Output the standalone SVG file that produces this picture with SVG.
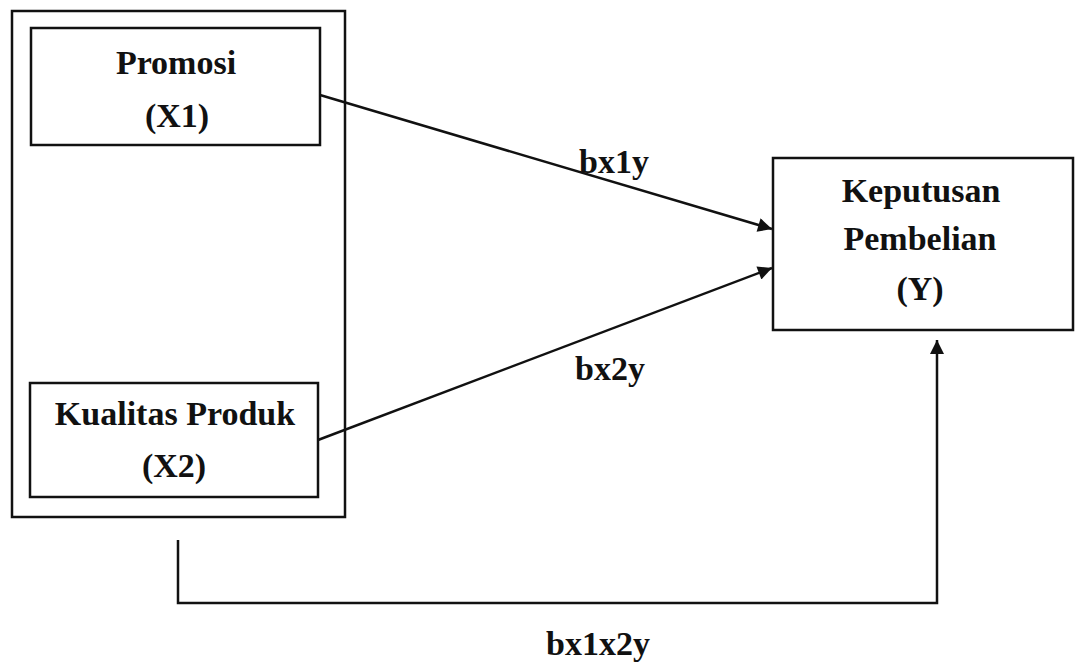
<svg xmlns="http://www.w3.org/2000/svg" width="1075" height="666" viewBox="0 0 1075 666">
  <defs>
    <marker id="arrow" viewBox="0 0 10 10" refX="10" refY="5" markerWidth="18" markerHeight="14" markerUnits="userSpaceOnUse" orient="auto">
      <path d="M0,0 L10,5 L0,10 z" fill="#111"/>
    </marker>
  </defs>
  <style>
    .box { fill: none; stroke: #111; stroke-width: 2.5; }
    .lbl { font-family: "Liberation Serif", "Times New Roman", serif; font-weight: bold; font-size: 34px; fill: #111; text-anchor: middle; }
    .conn { fill: none; stroke: #111; stroke-width: 2.5; }
  </style>
  <rect width="1075" height="666" fill="#ffffff"/>
  <g id="group-x">
    <rect class="box" x="12" y="11" width="333" height="506"/>
  </g>
  <g id="node-x1">
    <rect class="box" x="31" y="28" width="289" height="117"/>
    <text class="lbl" x="176" y="74">Promosi</text>
    <text class="lbl" x="177" y="127">(X1)</text>
  </g>
  <g id="node-x2">
    <rect class="box" x="30" y="383" width="288" height="114"/>
    <text class="lbl" x="175" y="425">Kualitas Produk</text>
    <text class="lbl" x="174" y="477">(X2)</text>
  </g>
  <g id="node-y">
    <rect class="box" x="773" y="158" width="300" height="172"/>
    <text class="lbl" x="921" y="202">Keputusan</text>
    <text class="lbl" x="920" y="250">Pembelian</text>
    <text class="lbl" x="920" y="300">(Y)</text>
  </g>
  <g id="connectors">
    <line class="conn" x1="320" y1="95" x2="772" y2="229" marker-end="url(#arrow)"/>
    <line class="conn" x1="318" y1="440" x2="772" y2="268" marker-end="url(#arrow)"/>
    <polyline class="conn" points="178,540 178,603 937,603 937,340" marker-end="url(#arrow)"/>
    <text class="lbl" x="614" y="173">bx1y</text>
    <text class="lbl" x="610" y="380">bx2y</text>
    <text class="lbl" x="598" y="655">bx1x2y</text>
  </g>
</svg>
